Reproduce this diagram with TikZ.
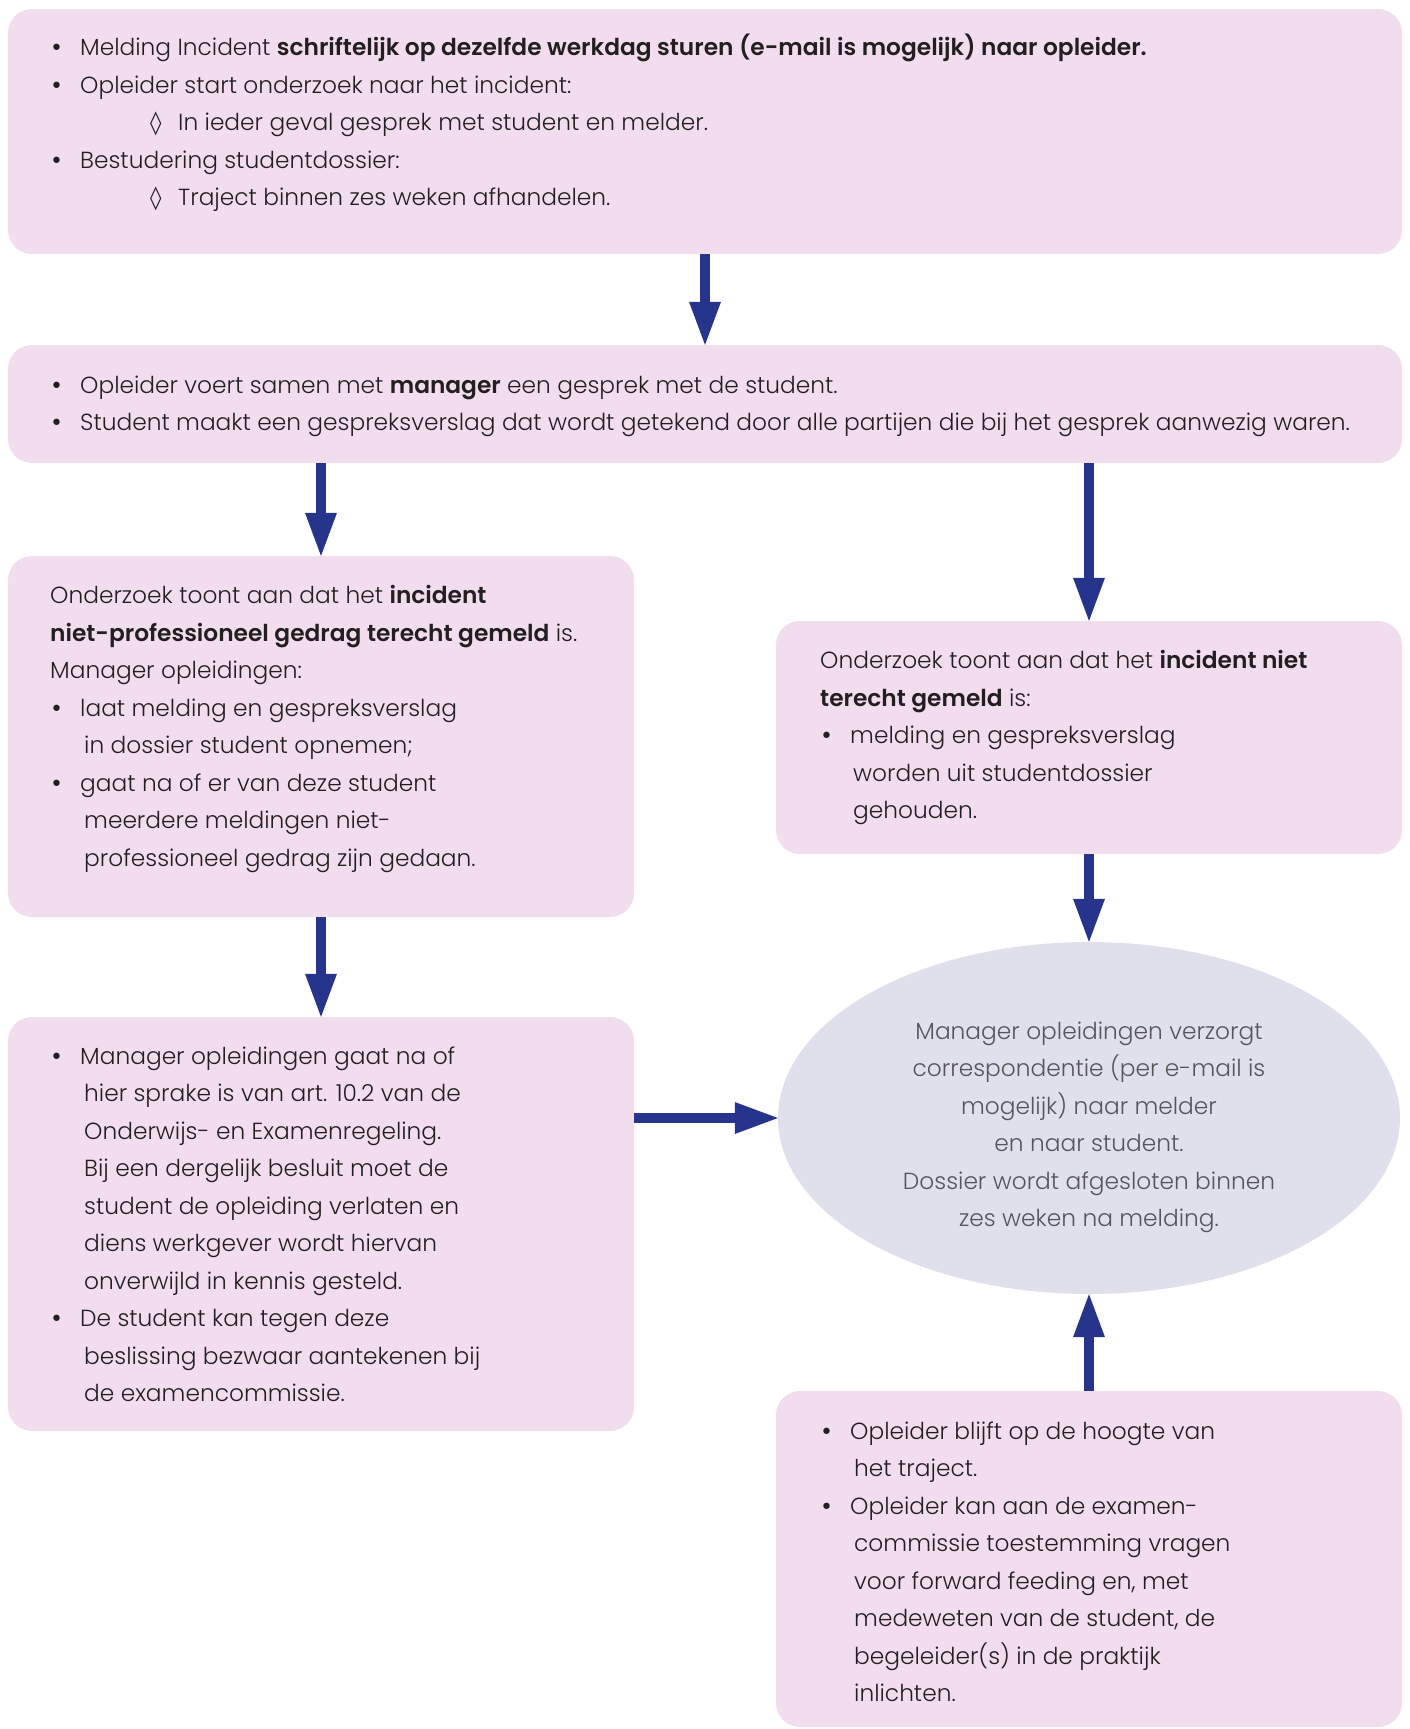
\documentclass[tikz,border=0pt]{standalone}
\usepackage{fontspec}
\IfFontExistsTF{Poppins Light}{%
  \IfFontExistsTF{Poppins SemiBold}{%
    \setmainfont{Poppins Light}[BoldFont={Poppins SemiBold}]}{%
    \setmainfont{Poppins Light}[BoldFont={Poppins Medium}]}%
  \newcommand\bodysize{\fontsize{23.3}{37.5}\selectfont}}{%
  \setmainfont{Lato Light}[BoldFont={Lato Bold},FakeStretch=1.2]%
  \newcommand\bodysize{\fontsize{22.3}{37.5}\selectfont}}
\newfontfamily\symfont{DejaVu Sans}
\usetikzlibrary{arrows.meta,shapes.geometric}
\definecolor{boxpink}{RGB}{242,221,238}
\definecolor{ellgrey}{RGB}{223,224,236}
\definecolor{navy}{RGB}{39,52,139}
\definecolor{txt}{RGB}{35,31,32}
\definecolor{elltxt}{RGB}{85,85,90}
\setlength\parindent{0pt}
\newcommand\bul{\makebox[25pt][l]{\hspace*{-5pt}{\symfont\fontsize{22}{22}\selectfont •}}}
\newcommand\cnt{\hspace*{29pt}}
\newcommand\dia{\makebox[26pt][l]{\hspace*{-2pt}{\symfont\fontsize{23}{23}\selectfont ◊}}}
\tikzset{
  pbox/.style={fill=boxpink, draw=none, rounded corners=24pt, inner sep=0pt},
  bigarrow/.style={navy, line width=10pt, -{Triangle[length=43pt,width=32pt,line width=0pt]}},
  body/.style={anchor=base west, inner sep=0pt, text=txt, font=\bodysize},
}
\begin{document}
\begin{tikzpicture}[x=1pt,y=-1pt]
\useasboundingbox (0,0) rectangle (1409,1729);
% boxes
\node[pbox, minimum width=1394pt, minimum height=245pt] (b1) at (705,131.5) {};
\node[pbox, minimum width=1394pt, minimum height=118pt] (b2) at (705,404) {};
\node[pbox, minimum width=626pt, minimum height=361pt] (b3) at (321,736.5) {};
\node[pbox, minimum width=626pt, minimum height=233pt] (b4) at (1089,737.5) {};
\node[pbox, minimum width=626pt, minimum height=414pt] (b5) at (321,1224) {};
\node[pbox, minimum width=626pt, minimum height=336pt] (b6) at (1089,1559) {};
\node[ellipse, fill=ellgrey, draw=none, inner sep=0pt, minimum width=622pt, minimum height=352pt] (el) at (1089,1118) {};
% texts
\node[body] (t1) at (55,55.5) {\begin{minipage}[t]{1340pt}
\bul Melding Incident \textbf{schriftelijk op dezelfde werkdag sturen (e-mail is mogelijk) naar opleider.}\\
\bul Opleider start onderzoek naar het incident:\\
\hspace*{97pt}\dia In ieder geval gesprek met student en melder.\\
\bul Bestudering studentdossier:\\
\hspace*{97pt}\dia Traject binnen zes weken afhandelen.
\end{minipage}};
\node[body] (t2) at (55,393) {\begin{minipage}[t]{1340pt}
\bul Opleider voert samen met \textbf{manager} een gesprek met de student.\\
\bul Student maakt een gespreksverslag dat wordt getekend door alle partijen die bij het gesprek aanwezig waren.
\end{minipage}};
\node[body] (t3) at (50,603.5) {\begin{minipage}[t]{570pt}
Onderzoek toont aan dat het \textbf{incident}\\
\textbf{niet-professioneel gedrag terecht gemeld} is.\\
Manager opleidingen:\\
\hspace*{5pt}\bul laat melding en gespreksverslag\\
\hspace*{34pt}in dossier student opnemen;\\
\hspace*{5pt}\bul gaat na of er van deze student\\
\hspace*{34pt}meerdere meldingen niet-\\
\hspace*{34pt}professioneel gedrag zijn gedaan.
\end{minipage}};
\node[body] (t4) at (820,668.5) {\begin{minipage}[t]{570pt}
Onderzoek toont aan dat het \textbf{incident niet}\\
\textbf{terecht gemeld} is:\\
\hspace*{5pt}\bul melding en gespreksverslag\\
\hspace*{33pt}worden uit studentdossier\\
\hspace*{33pt}gehouden.
\end{minipage}};
\node[body] (t5) at (55,1064) {\begin{minipage}[t]{570pt}
\bul Manager opleidingen gaat na of\\
\cnt hier sprake is van art. 10.2 van de\\
\cnt Onderwijs- en Examenregeling.\\
\cnt Bij een dergelijk besluit moet de\\
\cnt student de opleiding verlaten en\\
\cnt diens werkgever wordt hiervan\\
\cnt onverwijld in kennis gesteld.\\
\bul De student kan tegen deze\\
\cnt beslissing bezwaar aantekenen bij\\
\cnt de examencommissie.
\end{minipage}};
\node[body] (t6) at (825,1439) {\begin{minipage}[t]{570pt}
\bul Opleider blijft op de hoogte van\\
\cnt het traject.\\
\bul Opleider kan aan de examen-\\
\cnt commissie toestemming vragen\\
\cnt voor forward feeding en, met\\
\cnt medeweten van de student, de\\
\cnt begeleider(s) in de praktijk\\
\cnt inlichten.
\end{minipage}};
\node[body, anchor=base, text=elltxt] (t7) at (1089,1039) {\begin{minipage}[t]{580pt}\centering
Manager opleidingen verzorgt\\
correspondentie (per e-mail is\\
mogelijk) naar melder\\
en naar student.\\
Dossier wordt afgesloten binnen\\
zes weken na melding.
\end{minipage}};
% arrows
\draw[bigarrow] (b1.south) -- (b2.north);
\draw[bigarrow] (b2.south -| b3.north) -- (b3.north);
\draw[bigarrow] (b2.south -| b4.north) -- (b4.north);
\draw[bigarrow] (b3.south) -- (b5.north);
\draw[bigarrow] (b4.south) -- (el.north);
\draw[bigarrow] (b5.east |- el.west) -- (el.west);
\draw[bigarrow] (b6.north) -- (el.south);
\end{tikzpicture}
\end{document}
